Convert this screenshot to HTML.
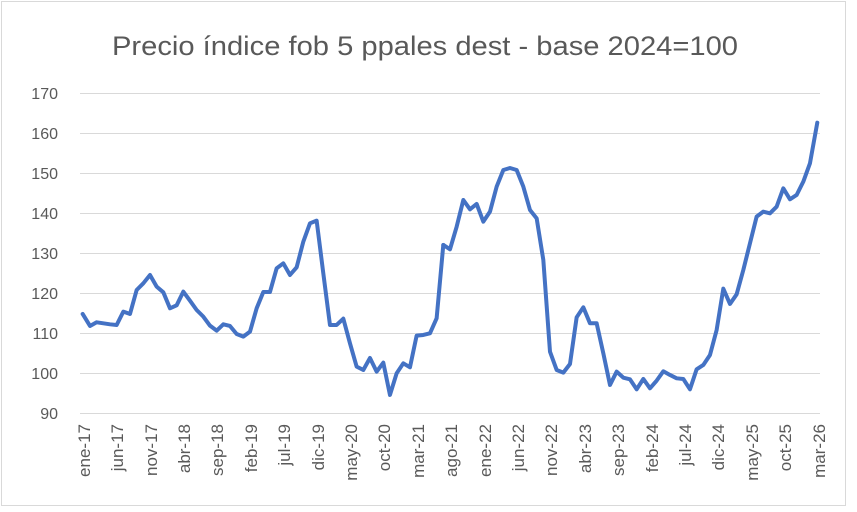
<!DOCTYPE html>
<html><head><meta charset="utf-8"><style>
html,body{margin:0;padding:0;background:#fff;}
svg{display:block;font-family:"Liberation Sans",sans-serif;}
</style></head><body>
<svg width="857" height="512" viewBox="0 0 857 512" xmlns="http://www.w3.org/2000/svg">
<rect x="1.5" y="1.5" width="844" height="504" fill="#fff" stroke="#d9d9d9" stroke-width="1"/>
<text x="425" y="55" text-anchor="middle" font-size="27" textLength="626" lengthAdjust="spacingAndGlyphs" fill="#595959">Precio índice fob 5 ppales dest - base 2024=100</text>
<g stroke="#d9d9d9" stroke-width="1">
<line x1="80" x2="820" y1="93.5" y2="93.5"/>
<line x1="80" x2="820" y1="133.5" y2="133.5"/>
<line x1="80" x2="820" y1="173.5" y2="173.5"/>
<line x1="80" x2="820" y1="213.5" y2="213.5"/>
<line x1="80" x2="820" y1="253.5" y2="253.5"/>
<line x1="80" x2="820" y1="293.5" y2="293.5"/>
<line x1="80" x2="820" y1="333.5" y2="333.5"/>
<line x1="80" x2="820" y1="373.5" y2="373.5"/>
<line x1="80" x2="820" y1="413.5" y2="413.5"/>
</g>
<g font-size="16" fill="#595959" text-anchor="end">
<text x="58" y="99">170</text><text x="58" y="139">160</text><text x="58" y="179">150</text>
<text x="58" y="219">140</text><text x="58" y="259">130</text><text x="58" y="299">120</text>
<text x="58" y="339">110</text><text x="58" y="379">100</text><text x="58" y="419">90</text>
</g>
<g font-size="17" fill="#595959" text-anchor="end">
<text transform="translate(90,424) rotate(-90)">ene-17</text>
<text transform="translate(123,424) rotate(-90)">jun-17</text>
<text transform="translate(157,424) rotate(-90)">nov-17</text>
<text transform="translate(190,424) rotate(-90)">abr-18</text>
<text transform="translate(223,424) rotate(-90)">sep-18</text>
<text transform="translate(257,424) rotate(-90)">feb-19</text>
<text transform="translate(290,424) rotate(-90)">jul-19</text>
<text transform="translate(324,424) rotate(-90)">dic-19</text>
<text transform="translate(357,424) rotate(-90)">may-20</text>
<text transform="translate(390,424) rotate(-90)">oct-20</text>
<text transform="translate(424,424) rotate(-90)">mar-21</text>
<text transform="translate(457,424) rotate(-90)">ago-21</text>
<text transform="translate(491,424) rotate(-90)">ene-22</text>
<text transform="translate(524,424) rotate(-90)">jun-22</text>
<text transform="translate(557,424) rotate(-90)">nov-22</text>
<text transform="translate(591,424) rotate(-90)">abr-23</text>
<text transform="translate(624,424) rotate(-90)">sep-23</text>
<text transform="translate(658,424) rotate(-90)">feb-24</text>
<text transform="translate(691,424) rotate(-90)">jul-24</text>
<text transform="translate(724,424) rotate(-90)">dic-24</text>
<text transform="translate(758,424) rotate(-90)">may-25</text>
<text transform="translate(791,424) rotate(-90)">oct-25</text>
<text transform="translate(825,424) rotate(-90)">mar-26</text>
</g>
<g fill="none" stroke="#4472c4" stroke-width="12" stroke-linejoin="round" stroke-linecap="round">
<polyline transform="translate(60,80) scale(0.3333)" points="68,702 90,738 110,727 130,730 150,733 170,735 190,695 210,702 230,630 250,610 270,585 290,620 310,637 330,685 350,676 370,635 390,662 410,690 430,710 450,737 470,752 490,733 510,738 530,762 550,770 570,755 590,685 610,636 630,636 650,565 670,550 690,585 710,562 730,485 750,430 770,422 790,580 810,735 830,735 850,716 870,790 890,860 910,870 930,834 950,875 970,848 990,945 1010,880 1030,850 1050,862 1070,767 1090,765 1110,760 1130,715 1150,495"/>
<polyline transform="translate(440,80) scale(0.3333)" points="10,495 30,508 50,440 70,360 90,388 110,372 130,425 150,395 170,320 190,270 210,264 230,270 250,320 270,390 290,415 310,540 330,815 350,870 370,878 390,852 410,712 430,682 450,730 470,730 490,820 510,915 530,875 550,893 570,898 590,928 610,897 630,925 650,902 670,874 690,885 710,895 730,897 750,928 770,868 790,855 810,825 830,750 850,626 870,672 890,643 910,570 930,490 950,410 970,395 990,400 1010,380 1030,325 1050,358 1070,345 1090,305 1110,250 1132,128"/>
</g>
</svg>
</body></html>
